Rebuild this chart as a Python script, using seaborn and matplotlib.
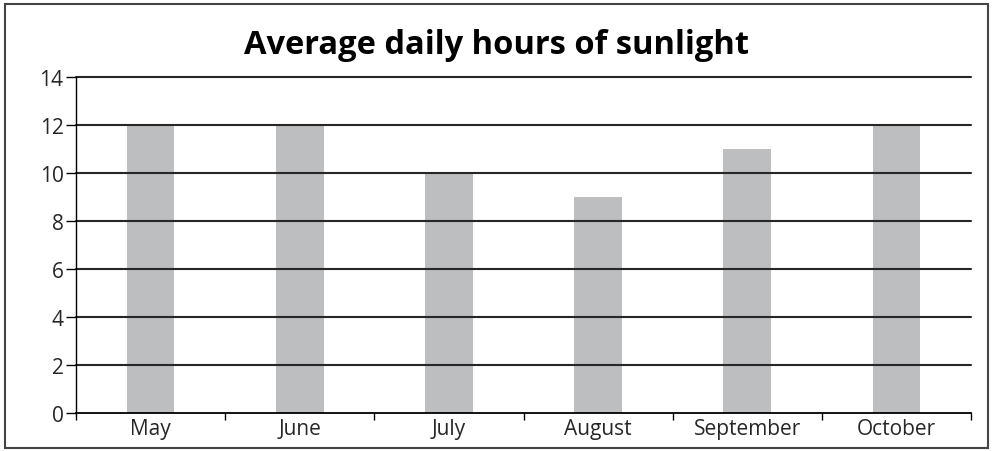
import matplotlib
matplotlib.use("Agg")
import matplotlib.pyplot as plt
import matplotlib.patches as mpatches
import seaborn as sns
import pandas as pd

months = ["May", "June", "July", "August", "September", "October"]
hours = [12, 12, 10, 9, 11, 12]
y_ticks = [0, 2, 4, 6, 8, 10, 12, 14]
title = "Average daily hours of sunlight"

sns.set_theme(style="white")
plt.rcParams["font.family"] = ["Open Sans", "DejaVu Sans"]

df = pd.DataFrame({"month": months, "hours": hours})

fig = plt.figure(figsize=(9.93, 4.52), dpi=100)
ax = fig.add_axes([0.0765, 0.085, 0.9015, 0.742])

sns.barplot(data=df, x="month", y="hours", color="#bdbec0", width=0.32,
            saturation=1, linewidth=0, ax=ax, zorder=1)

# horizontal grid lines drawn over the bars
for v in y_ticks[1:]:
    ax.axhline(v, color="#262626", linewidth=1.5, zorder=3, clip_on=False)

ax.set_xlim(-0.5, len(months) - 0.5)
ax.set_ylim(0, 14)
ax.set_xlabel("")
ax.set_ylabel("")

# category boundaries carry the tick marks, labels sit at the centres
ax.set_xticks([i - 0.5 for i in range(len(months) + 1)])
ax.set_xticklabels([])
ax.set_xticks(range(len(months)), minor=True)
ax.set_xticklabels(months, minor=True, fontsize=15)
ax.tick_params(axis="x", which="major", length=5, width=1, color="black",
               direction="out", bottom=True)
ax.tick_params(axis="x", which="minor", length=0, pad=4)

ax.set_yticks(y_ticks)
ax.set_yticklabels([str(v) for v in y_ticks], fontsize=15)
ax.tick_params(axis="y", length=7, width=1, color="black", direction="out",
               left=True, pad=2)

for side in ["top", "right"]:
    ax.spines[side].set_visible(False)
ax.spines["left"].set_color("black")
ax.spines["left"].set_linewidth(1)
ax.spines["bottom"].set_color("black")
ax.spines["bottom"].set_linewidth(1.3)
ax.spines["left"].set_zorder(4)
ax.spines["bottom"].set_zorder(4)

fig.text(0.5, 0.9, title, ha="center", va="center", fontsize=23.5,
         fontweight="bold", color="black")

# frame around the whole figure
frame = mpatches.Rectangle((5 / 993, 3 / 452), 983 / 993, 444 / 452,
                           transform=fig.transFigure, fill=False,
                           edgecolor="#444444", linewidth=1.5)
fig.patches.append(frame)

fig.savefig("out.png", dpi=100)
